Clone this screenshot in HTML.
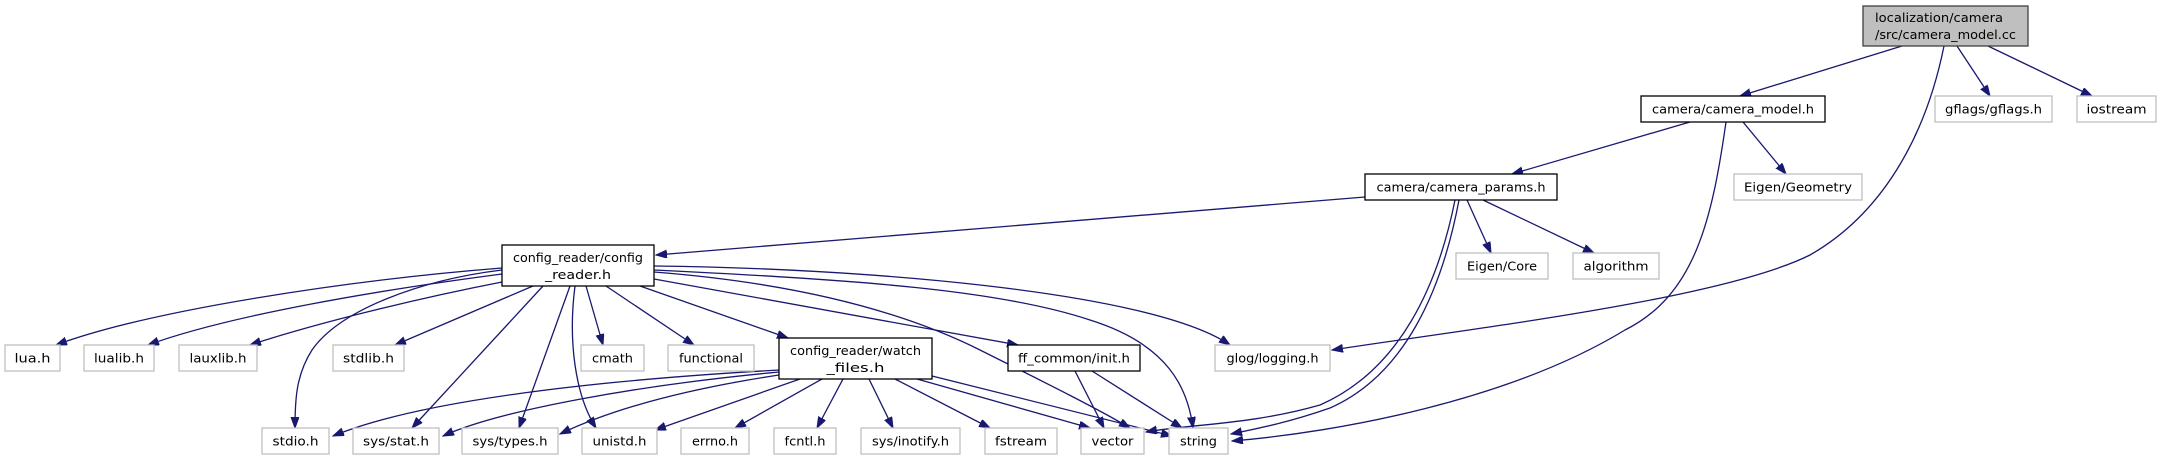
<!DOCTYPE html>
<html><head><meta charset="utf-8"><style>
html,body{margin:0;padding:0;background:#fff;}
svg{display:block;}
text{font-family:"DejaVu Sans","Liberation Sans",sans-serif;font-size:12.5px;fill:#000;}
.e{fill:none;stroke:#191970;stroke-width:1.3;marker-end:url(#a);}
.n{fill:#fff;stroke:#000;stroke-width:1.3;}
.g{fill:#fff;stroke:#bfbfbf;stroke-width:1.3;}
</style></head><body>
<svg width="2162" height="455" viewBox="0 0 2162 455" xmlns="http://www.w3.org/2000/svg">
<defs><marker id="a" markerUnits="userSpaceOnUse" markerWidth="12" markerHeight="10" refX="11" refY="4" orient="auto"><path d="M0,0 L11,4 L0,8 z" fill="#191970" stroke="#191970"/></marker></defs>
<!-- edges -->
<path class="e" d="M1902,46 L1740,96"/>
<path class="e" d="M1957,46 L1990,96"/>
<path class="e" d="M1988,46 L2092,96"/>
<path class="e" d="M1944,46 C1925,140 1880,215 1810,255 C1720,300 1460,330 1332,350"/>
<path class="e" d="M1726,122 C1712,220 1695,295 1625,330 C1510,400 1340,432 1232,441"/>
<path class="e" d="M1690,122 L1512,174"/>
<path class="e" d="M1743,122 L1786,174"/>
<path class="e" d="M1365,197 L656,255"/>
<path class="e" d="M1467,200 L1491,253"/>
<path class="e" d="M1483,200 L1594,253"/>
<path class="e" d="M1455,200 C1438,285 1400,370 1320,405 C1250,425 1190,424 1146,432"/>
<path class="e" d="M1459,200 C1442,290 1405,375 1330,408 C1290,422 1260,428 1231,434"/>
<path class="e" d="M502,268 C350,280 150,310 56,345"/>
<path class="e" d="M502,274 C380,290 230,315 148,345"/>
<path class="e" d="M502,282 C420,298 320,322 250,345"/>
<path class="e" d="M533,286 L395,345"/>
<path class="e" d="M502,270 C420,280 340,310 312,350 C296,375 295,400 295,428"/>
<path class="e" d="M543,286 L412,428"/>
<path class="e" d="M570,286 L519,428"/>
<path class="e" d="M575,286 C568,340 575,395 596,428"/>
<path class="e" d="M586,286 L603,345"/>
<path class="e" d="M606,286 L694,345"/>
<path class="e" d="M640,286 L788,338"/>
<path class="e" d="M654,279 L1018,345"/>
<path class="e" d="M654,266 C850,268 1150,290 1230,345"/>
<path class="e" d="M654,270 C860,280 1000,290 1090,320 C1170,345 1188,390 1193,428"/>
<path class="e" d="M654,272 C820,285 920,320 980,350 C1050,385 1100,410 1130,428"/>
<path class="e" d="M779,370 C600,380 420,400 333,436"/>
<path class="e" d="M779,372 C640,385 500,410 443,436"/>
<path class="e" d="M779,375 C680,390 610,410 560,434"/>
<path class="e" d="M800,379 L655,430"/>
<path class="e" d="M822,379 L735,428"/>
<path class="e" d="M843,379 L817,428"/>
<path class="e" d="M869,379 L893,428"/>
<path class="e" d="M895,379 L990,428"/>
<path class="e" d="M917,379 L1090,428"/>
<path class="e" d="M932,376 L1172,436"/>
<path class="e" d="M1075,371 L1104,428"/>
<path class="e" d="M1092,371 L1182,428"/>
<!-- nodes -->
<rect x="1863" y="6" width="165" height="40" fill="#bfbfbf" stroke="#404040" stroke-width="1.3"/>
<text x="1875" y="22" textLength="128" lengthAdjust="spacingAndGlyphs">localization/camera</text>
<text x="1875" y="39" textLength="141" lengthAdjust="spacingAndGlyphs">/src/camera_model.cc</text>
<rect class="n" x="1641" y="96" width="184" height="26"/><text x="1733" y="113.5" text-anchor="middle" textLength="162" lengthAdjust="spacingAndGlyphs">camera/camera_model.h</text>
<rect class="g" x="1935" y="96" width="117" height="26"/><text x="1993.5" y="113.5" text-anchor="middle" textLength="97" lengthAdjust="spacingAndGlyphs">gflags/gflags.h</text>
<rect class="g" x="2077" y="96" width="79" height="26"/><text x="2116.5" y="113.5" text-anchor="middle" textLength="60" lengthAdjust="spacingAndGlyphs">iostream</text>
<rect class="g" x="1734" y="174" width="128" height="26"/><text x="1798" y="191.5" text-anchor="middle" textLength="108" lengthAdjust="spacingAndGlyphs">Eigen/Geometry</text>
<rect class="n" x="1365" y="174" width="192" height="26"/><text x="1461" y="191.5" text-anchor="middle" textLength="169" lengthAdjust="spacingAndGlyphs">camera/camera_params.h</text>
<rect class="g" x="1456" y="253" width="92" height="26"/><text x="1502" y="270.5" text-anchor="middle" textLength="70" lengthAdjust="spacingAndGlyphs">Eigen/Core</text>
<rect class="g" x="1573" y="253" width="86" height="26"/><text x="1616" y="270.5" text-anchor="middle" textLength="65" lengthAdjust="spacingAndGlyphs">algorithm</text>
<rect class="n" x="502" y="245" width="152" height="41"/>
<text x="578" y="262" text-anchor="middle" textLength="130" lengthAdjust="spacingAndGlyphs">config_reader/config</text>
<text x="578" y="279" text-anchor="middle" textLength="66" lengthAdjust="spacingAndGlyphs">_reader.h</text>
<rect class="g" x="5" y="345" width="55" height="26"/><text x="32.5" y="362.5" text-anchor="middle" textLength="36" lengthAdjust="spacingAndGlyphs">lua.h</text>
<rect class="g" x="84" y="345" width="70" height="26"/><text x="119" y="362.5" text-anchor="middle" textLength="50" lengthAdjust="spacingAndGlyphs">lualib.h</text>
<rect class="g" x="179" y="345" width="78" height="26"/><text x="218" y="362.5" text-anchor="middle" textLength="57" lengthAdjust="spacingAndGlyphs">lauxlib.h</text>
<rect class="g" x="333" y="345" width="71" height="26"/><text x="368.5" y="362.5" text-anchor="middle" textLength="51" lengthAdjust="spacingAndGlyphs">stdlib.h</text>
<rect class="g" x="581" y="345" width="63" height="26"/><text x="612.5" y="362.5" text-anchor="middle" textLength="41" lengthAdjust="spacingAndGlyphs">cmath</text>
<rect class="g" x="668" y="345" width="86" height="26"/><text x="711" y="362.5" text-anchor="middle" textLength="64" lengthAdjust="spacingAndGlyphs">functional</text>
<rect class="n" x="779" y="338" width="153" height="41" stroke="#404040"/>
<text x="855.5" y="355" text-anchor="middle" textLength="131" lengthAdjust="spacingAndGlyphs">config_reader/watch</text>
<text x="855.5" y="372" text-anchor="middle" textLength="58" lengthAdjust="spacingAndGlyphs">_files.h</text>
<rect class="n" x="1008" y="345" width="132" height="26"/><text x="1074" y="362.5" text-anchor="middle" textLength="112" lengthAdjust="spacingAndGlyphs">ff_common/init.h</text>
<rect class="g" x="1215" y="345" width="115" height="26"/><text x="1272.5" y="362.5" text-anchor="middle" textLength="92" lengthAdjust="spacingAndGlyphs">glog/logging.h</text>
<rect class="g" x="262" y="428" width="67" height="26"/><text x="295.5" y="445.5" text-anchor="middle" textLength="46" lengthAdjust="spacingAndGlyphs">stdio.h</text>
<rect class="g" x="353" y="428" width="86" height="26"/><text x="396" y="445.5" text-anchor="middle" textLength="66" lengthAdjust="spacingAndGlyphs">sys/stat.h</text>
<rect class="g" x="462" y="428" width="96" height="26"/><text x="510" y="445.5" text-anchor="middle" textLength="75" lengthAdjust="spacingAndGlyphs">sys/types.h</text>
<rect class="g" x="582" y="428" width="75" height="26"/><text x="619.5" y="445.5" text-anchor="middle" textLength="54" lengthAdjust="spacingAndGlyphs">unistd.h</text>
<rect class="g" x="681" y="428" width="68" height="26"/><text x="715" y="445.5" text-anchor="middle" textLength="46" lengthAdjust="spacingAndGlyphs">errno.h</text>
<rect class="g" x="774" y="428" width="62" height="26"/><text x="805" y="445.5" text-anchor="middle" textLength="41" lengthAdjust="spacingAndGlyphs">fcntl.h</text>
<rect class="g" x="861" y="428" width="99" height="26"/><text x="910.5" y="445.5" text-anchor="middle" textLength="77" lengthAdjust="spacingAndGlyphs">sys/inotify.h</text>
<rect class="g" x="985" y="428" width="72" height="26"/><text x="1021" y="445.5" text-anchor="middle" textLength="52" lengthAdjust="spacingAndGlyphs">fstream</text>
<rect class="g" x="1081" y="428" width="63" height="26"/><text x="1112.5" y="445.5" text-anchor="middle" textLength="42" lengthAdjust="spacingAndGlyphs">vector</text>
<rect class="g" x="1169" y="428" width="59" height="26"/><text x="1198.5" y="445.5" text-anchor="middle" textLength="37" lengthAdjust="spacingAndGlyphs">string</text>
</svg>
</body></html>
